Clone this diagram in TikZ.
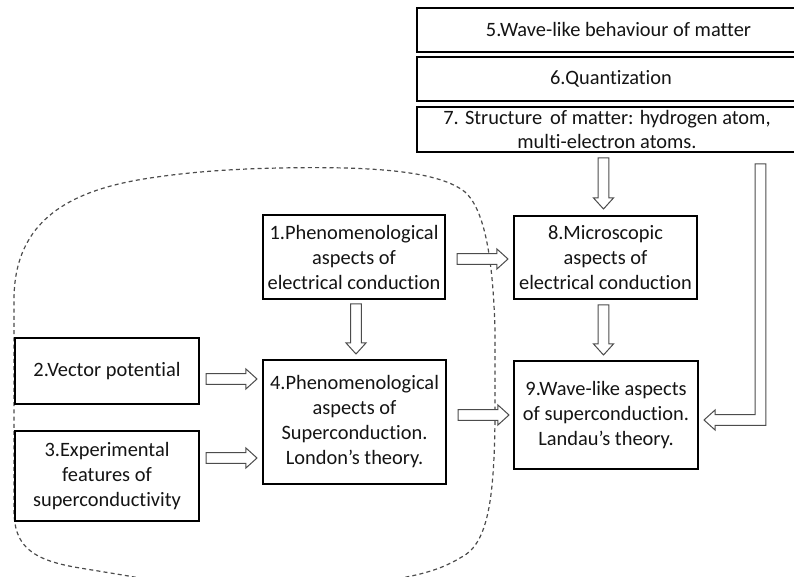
\documentclass[tikz,border=0pt]{standalone}
\usepackage{fontspec}
\setmainfont{Carlito}[Ligatures=NoCommon]
\usetikzlibrary{calc}
\newcommand\HollowH[2]{\draw[hollow] let \p1=(#1), \p2=(#2) in (\x1,\y1-4.1pt) -- (\x2-8.3pt,\y1-4.1pt) -- (\x2-8.3pt,\y1-7.5pt) -- (\x2,\y1) -- (\x2-8.3pt,\y1+7.5pt) -- (\x2-8.3pt,\y1+4.1pt) -- (\x1,\y1+4.1pt) -- cycle;}
\newcommand\HollowV[2]{\draw[hollow] let \p1=(#1), \p2=(#2) in (\x1-4.1pt,\y1) -- (\x1-4.1pt,\y2+8.3pt) -- (\x1-7.5pt,\y2+8.3pt) -- (\x1,\y2) -- (\x1+7.5pt,\y2+8.3pt) -- (\x1+4.1pt,\y2+8.3pt) -- (\x1+4.1pt,\y1) -- cycle;}
\begin{document}
\begin{tikzpicture}[x=0.75pt,y=-0.75pt,
  box/.style={draw=black, line width=1.5pt, fill=white, inner sep=0pt, align=center, text=black!92,
    font=\fontsize{15.3pt}{18.75pt}\selectfont},
  hollow/.style={draw=black!70, line width=0.75pt, fill=white, line join=miter},
  border/.style={draw=black!70, line width=0.9pt, dash pattern=on 3pt off 2.4pt}]
\useasboundingbox (0,0) rectangle (794,577);
\clip (0,0) rectangle (794,577);
% dashed boundary
\draw[border] (150,580) .. controls (130,576) and (110,573) .. (80,568)
  .. controls (30,560) and (14,545) .. (14,510) -- (14,300)
  .. controls (14,220) and (70,190) .. (150,178)
  .. controls (190,172) and (230,169) .. (280,168)
  .. controls (380,166) and (440,172) .. (465,192)
  .. controls (485,210) and (493,260) .. (495,330) -- (495,420)
  .. controls (494,500) and (488,545) .. (460,558)
  .. controls (440,570) and (420,575) .. (390,580);
% boxes
\node[box, minimum width=403*0.75pt, minimum height=44*0.75pt] (b5) at (618.5,30) {5.Wave-like behaviour of matter};
\node[box, minimum width=388*0.75pt, minimum height=44*0.75pt] (b6) at (611,79) {6.Quantization};
\node[box, minimum width=380*0.75pt, minimum height=45*0.75pt, font=\fontsize{15.3pt}{18pt}\selectfont] (b7) at (607,129.5) {7. Structure\, of matter: hydrogen atom,\\multi-electron atoms.};
\node[box, minimum width=182*0.75pt, minimum height=84*0.75pt] (b1) at (354,257) {1.Phenomenological\\aspects of\\electrical conduction};
\node[box, minimum width=183*0.75pt, minimum height=83*0.75pt] (b8) at (605.5,257.5) {8.Microscopic\\aspects of\\electrical conduction};
\node[box, minimum width=183*0.75pt, minimum height=124*0.75pt] (b4) at (354.5,422) {4.Phenomenological\\aspects of\\Superconduction.\\London’s theory.};
\node[box, minimum width=184*0.75pt, minimum height=66*0.75pt] (b2) at (107,371) {2.Vector potential};
\node[box, minimum width=184*0.75pt, minimum height=90*0.75pt] (b3) at (107,476) {3.Experimental\\features of\\superconductivity};
\node[box, minimum width=184*0.75pt, minimum height=108*0.75pt] (b9) at (606,415) {9.Wave-like aspects\\of superconduction.\\Landau’s theory.};
% hollow arrows
\HollowV{$(b7.south -| b8.north)+(-2,5)$}{$(b8.north)+(0,-6)$}
\HollowV{$(b8.south)+(-2,5)$}{$(b9.north)+(0,-5)$}
\HollowV{$(b1.south)+(2,4)$}{$(b4.north)+(0,-5)$}
\HollowH{$(b1.east)+(11,2)$}{$(b8.west)+(-5,0)$}
\HollowH{$(b2.east)+(6,8)$}{$(b4.west)+(-5,0)$}
\HollowH{$(b3.east)+(6,-18)$}{$(b4.west)+(-5,0)$}
\HollowH{$(b4.east)+(11,-7)$}{$(b9.west)+(-4,0)$}
\draw[hollow] let \p1=($(b9.east)+(5,5)$), \p2=($(b7.south)+(153.5,11)$) in
  (\x2-4.1pt,\y2) -- (\x2+4.1pt,\y2) -- (\x2+4.1pt,\y1-4.1pt) -- (\x1+8.3pt,\y1-4.1pt)
  -- (\x1+8.3pt,\y1-7.5pt) -- (\x1,\y1) -- (\x1+8.3pt,\y1+7.5pt) -- (\x1+8.3pt,\y1+4.1pt)
  -- (\x2-4.1pt,\y1+4.1pt) -- cycle;
\end{tikzpicture}
\end{document}
